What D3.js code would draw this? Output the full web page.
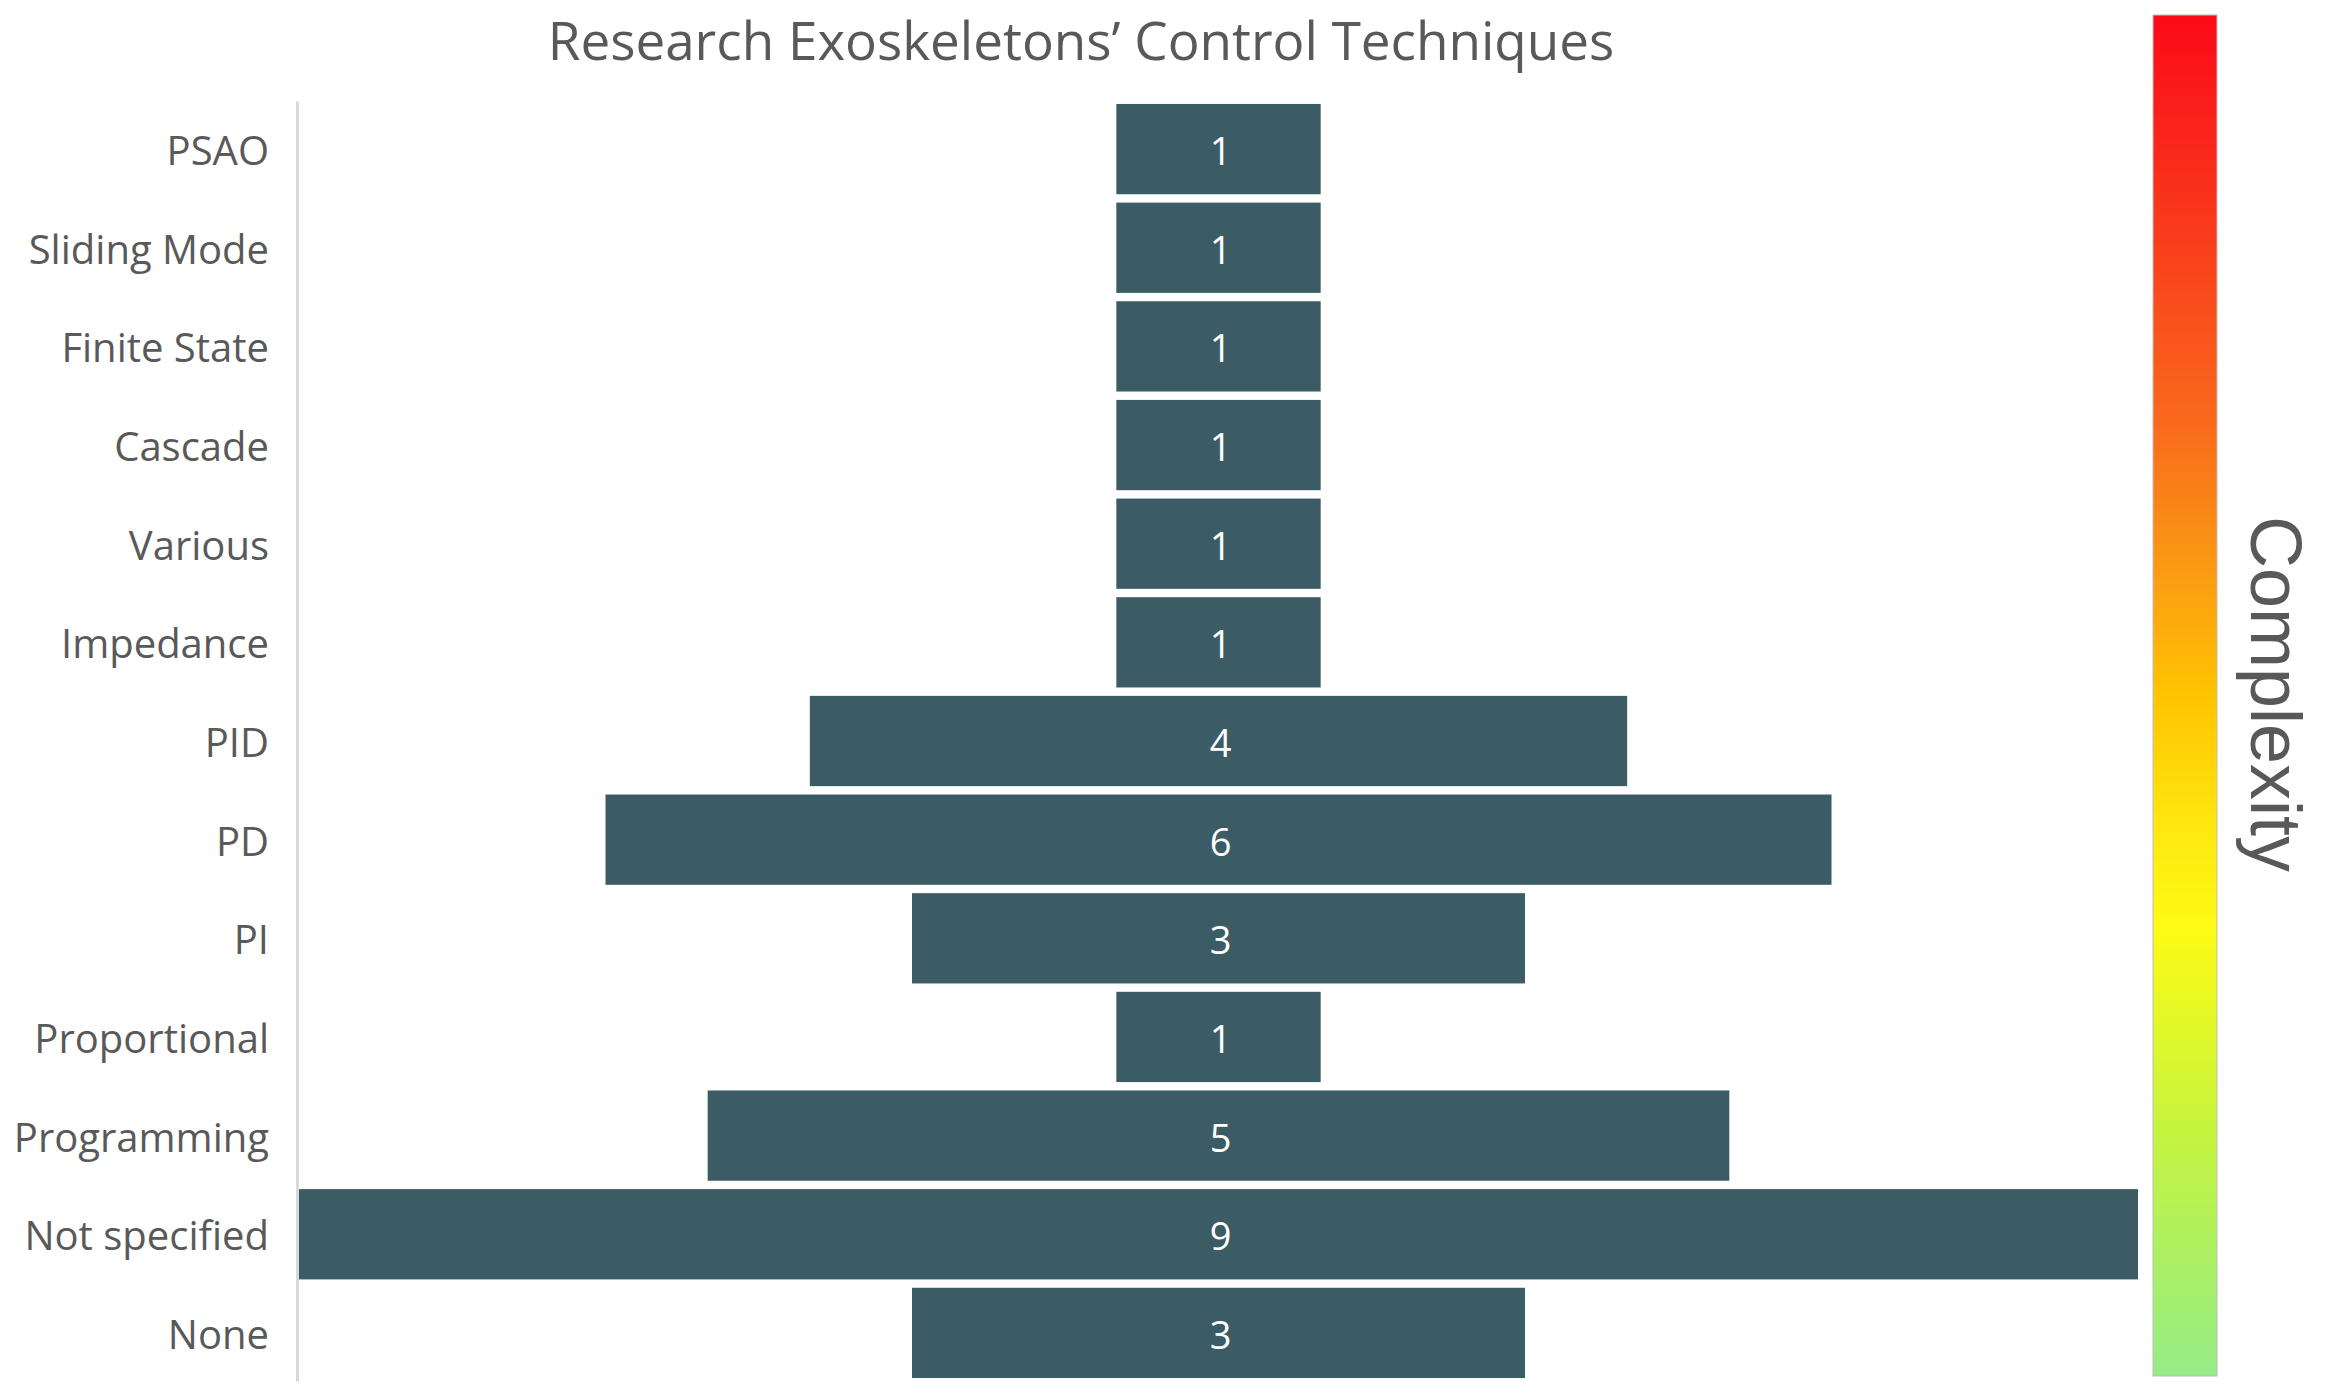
<!DOCTYPE html>
<html>
<head>
<meta charset="utf-8">
<script src="https://cdn.jsdelivr.net/npm/d3@7"></script>
<style>
  body { margin: 0; background: #fff; }
  svg { display: block; }
  text { font-family: "Open Sans", "Noto Sans", sans-serif; }
</style>
</head>
<body>
<div id="chart"></div>
<script>
//Data (top to bottom)
var categories = ["PSAO", "Sliding Mode", "Finite State", "Cascade", "Various", "Impedance",
	"PID", "PD", "PI", "Proportional", "Programming", "Not specified", "None"];
var counts = [1, 1, 1, 1, 1, 1, 4, 6, 3, 1, 5, 9, 3];
var chartTitle = "Research Exoskeletons\u2019 Control Techniques";
var legendTitle = "Complexity";
//colour stops of the complexity bar, top (high) to bottom (low)
var complexityColors = ["#fb0a18", "#f9381c", "#f96a1c", "#fba012", "#ffc400", "#ffe810", "#fdfb14", "#c6f43e", "#94ec86"];

var width = 2330, height = 1398;
var margin = {top: 101, right: 192, bottom: 17, left: 299};

var svg = d3.select('#chart').append('svg')
	.attr('width', width)
	.attr('height', height);

//Scales
var maxVal = d3.max(counts);
var x = d3.scaleLinear()
	.domain([-maxVal/2, maxVal/2])
	.range([margin.left, 2138]);
var y = d3.scaleBand()
	.domain(categories)
	.range([margin.top, height - margin.bottom])
	.paddingInner(0.085)
	.paddingOuter(0.03);

//Title
svg.append('text')
	.attr('x', 1081)
	.attr('y', 60)
	.attr('text-anchor', 'middle')
	.style('font-size', '53px')
	.style('fill', '#595959')
	.text(chartTitle);

//Left axis (labels only, plus light line)
var axis = svg.append('g')
	.attr('class', 'axis')
	.attr('transform', 'translate(' + (margin.left - 2) + ',0)')
	.call(d3.axisLeft(y).tickSize(0).tickPadding(28));
axis.select('.domain')
	.attr('stroke', '#d9d9d9')
	.attr('stroke-width', 3);
axis.selectAll('text')
	.attr('dy', '0.40em')
	.style('font-size', '40px')
	.style('font-family', '"Open Sans", "Noto Sans", sans-serif')
	.style('fill', '#595959');

//Bars, centred on zero
var bars = svg.append('g').attr('class', 'bars')
	.selectAll('g.bar')
	.data(categories)
	.enter().append('g')
		.attr('class', 'bar');
bars.append('rect')
	.attr('x', function(d, i) { return x(-counts[i]/2); })
	.attr('y', function(d) { return y(d); })
	.attr('width', function(d, i) { return x(counts[i]/2) - x(-counts[i]/2); })
	.attr('height', y.bandwidth())
	.attr('fill', '#3b5b65');
bars.append('text')
	.attr('x', x(0) + 2)
	.attr('y', function(d) { return y(d) + y.bandwidth()/2; })
	.attr('dy', '0.42em')
	.attr('text-anchor', 'middle')
	.style('font-size', '38px')
	.style('fill', '#ffffff')
	.text(function(d, i) { return counts[i]; });

//Complexity gradient bar
var defs = svg.append('defs');
var grad = defs.append('linearGradient')
	.attr('id', 'complexity')
	.attr('x1', 0).attr('y1', 0).attr('x2', 0).attr('y2', 1);
var stopPos = [0, 0.15, 0.3, 0.42, 0.5, 0.6, 0.67, 0.82, 1];
grad.selectAll('stop')
	.data(complexityColors)
	.enter().append('stop')
		.attr('offset', function(d, i) { return stopPos[i]; })
		.attr('stop-color', function(d) { return d; });

svg.append('rect')
	.attr('x', 2153)
	.attr('y', 15)
	.attr('width', 64)
	.attr('height', 1361)
	.attr('fill', 'url(#complexity)')
	.attr('stroke', '#bdbdbd')
	.attr('stroke-width', 1);

svg.append('text')
	.attr('transform', 'translate(2276,694) rotate(90)')
	.attr('text-anchor', 'middle')
	.attr('dy', '0.35em')
	.style('font-family', '"Liberation Sans", Arial, sans-serif')
	.style('font-size', '72px')
	.style('fill', '#595959')
	.text(legendTitle);
</script>
</body>
</html>
